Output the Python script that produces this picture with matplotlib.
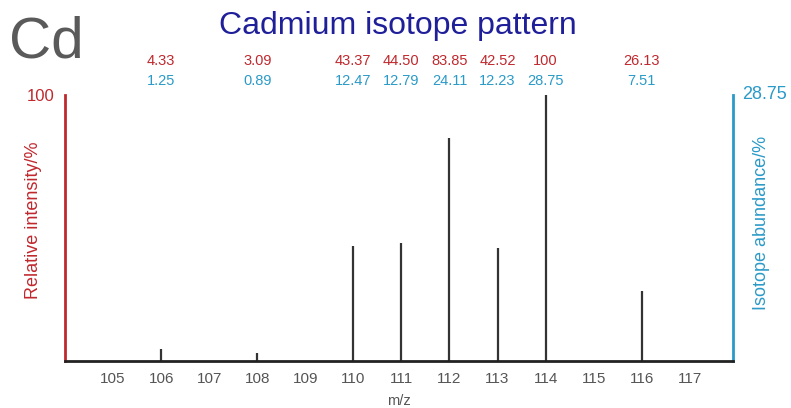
import numpy as np
import matplotlib.pyplot as plt
from matplotlib.transforms import blended_transform_factory

plt.rcParams['font.family'] = ['Liberation Sans', 'DejaVu Sans']

masses = [106, 108, 110, 111, 112, 113, 114, 116]
rel_intensity = [4.33, 3.09, 43.37, 44.50, 83.85, 42.52, 100, 26.13]
abundance = [1.25, 0.89, 12.47, 12.79, 24.11, 12.23, 28.75, 7.51]
rel_labels = ['4.33', '3.09', '43.37', '44.50', '83.85', '42.52', '100', '26.13']
abund_labels = ['1.25', '0.89', '12.47', '12.79', '24.11', '12.23', '28.75', '7.51']
xticks = list(range(105, 118))

red = '#c0282d'
blue = '#2a9ac8'
gray = '#555555'

fig = plt.figure(figsize=(7.91, 4.08), dpi=100)
ax = fig.add_axes([0.0822, 0.1152, 0.8445, 0.652])

ax.vlines(masses, 0, rel_intensity, color='#333333', lw=1.6)
ax.set_xlim(104.0, 117.9)
ax.set_ylim(0, 100)

ax.spines['top'].set_visible(False)
ax.spines['bottom'].set_linewidth(2)
ax.spines['bottom'].set_color('#222222')
ax.spines['left'].set_color(red)
ax.spines['left'].set_linewidth(2)
ax.spines['right'].set_color(blue)
ax.spines['right'].set_linewidth(2)

ax.set_xticks(xticks)
ax.set_xticklabels([str(t) for t in xticks], color=gray, fontsize=11)
ax.tick_params(axis='x', length=0, pad=8)
ax.set_yticks([])

ax.set_xlabel('m/z', color=gray, fontsize=10.5, labelpad=6)
ax.set_ylabel('Relative intensity/%', color=red, fontsize=13)

ax2 = ax.twinx()
ax2.set_ylim(0, 28.75)
ax2.set_yticks([])
for s in ['top', 'left', 'bottom', 'right']:
    ax2.spines[s].set_visible(False)
ax2.set_ylabel('Isotope abundance/%', color=blue, fontsize=13)
ax.yaxis.set_label_coords(-0.034, 0.53)
ax2.yaxis.set_label_coords(1.03, 0.52)

# axis end values
ax.text(-0.016, 0.995, '100', transform=ax.transAxes, color=red,
        fontsize=12, ha='right', va='center')
ax.text(1.014, 1.0, '28.75', transform=ax.transAxes, color=blue,
        fontsize=13, ha='left', va='center')

# per-peak values above the plot
trans = blended_transform_factory(ax.transData, ax.transAxes)
for m, r, a in zip(masses, rel_labels, abund_labels):
    ax.text(m, 1.126, r, transform=trans, color=red, fontsize=10.5,
            ha='center', va='center')
    ax.text(m, 1.052, a, transform=trans, color=blue, fontsize=10.5,
            ha='center', va='center')

fig.text(0.503, 0.937, 'Cadmium isotope pattern', color='#1f1f9a',
         fontsize=23, ha='center', va='center')
fig.text(0.012, 0.895, 'Cd', color='#5a5a5a', fontsize=42,
         ha='left', va='center')

fig.savefig('out.png', dpi=100)
